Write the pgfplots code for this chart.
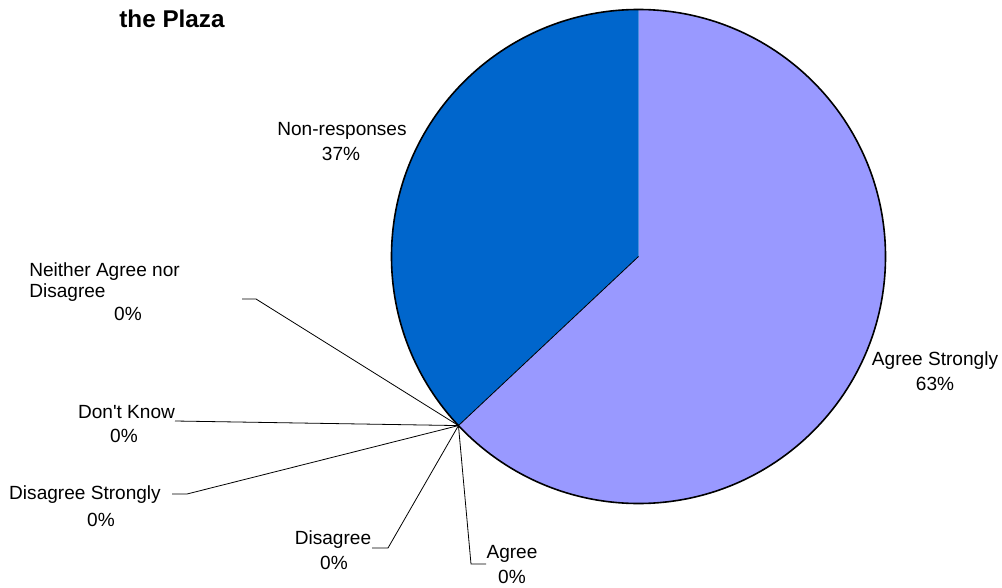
\documentclass[border=0pt]{standalone}
\usepackage{pgfplots}
\usepackage{pgfplotstable}
\pgfplotsset{compat=1.18}
\usepackage{fontspec}
\setmainfont{Liberation Sans}
\definecolor{agreestrong}{HTML}{9999FF}
\definecolor{nonresp}{HTML}{0066CC}

\pgfplotstableread[col sep=comma]{
category,value
Agree Strongly,63
Agree,0
Disagree,0
Disagree Strongly,0
Don't Know,0
Neither Agree nor Disagree,0
Non-responses,37
}\piedata

\pgfplotstablegetelem{0}{value}\of\piedata
\pgfmathsetmacro{\vAS}{\pgfplotsretval}
\pgfplotstablegetelem{6}{value}\of\piedata
\pgfmathsetmacro{\vNR}{\pgfplotsretval}
\pgfmathsetmacro{\aA}{90-3.6*\vAS}
\pgfmathsetmacro{\aB}{\aA-3.6*\vNR}
\def\R{185.25pt}
\newcommand\lf{\fontsize{14.3}{16}\selectfont}

\begin{document}
\begin{tikzpicture}
\begin{axis}[scale only axis, width=751.5pt, height=441pt,
  xmin=0, xmax=1002, ymin=0, ymax=588, y dir=reverse,
  hide axis, clip=false]
% slices
\fill[agreestrong] (axis cs:638.5,256.5) -- ++(90:\R) arc[start angle=90,end angle=\aA,radius=\R] -- cycle;
\fill[nonresp] (axis cs:638.5,256.5) -- ++(\aA:\R) arc[start angle=\aA,end angle=\aB,radius=\R] -- cycle;
\draw[line width=1.2pt] (axis cs:638.5,256.5) circle[radius=\R];
\draw[line width=0.6pt] (axis cs:638.5,256.5) -- ++(\aA:\R);
\path (axis cs:638.5,256.5) ++(\aA:\R) coordinate (C);
% leader lines
\draw[line width=0.6pt] (axis cs:242,299) -- (axis cs:256,299) -- (C);
\draw[line width=0.6pt] (axis cs:175,421) -- (C);
\draw[line width=0.6pt] (axis cs:172,494) -- (axis cs:187,494) -- (C);
\draw[line width=0.6pt] (axis cs:372,548) -- (axis cs:388,548) -- (C);
\draw[line width=0.6pt] (axis cs:486,564) -- (axis cs:471,564) -- (C);
% title
\node[inner sep=0pt, font=\fontsize{18.2}{21}\selectfont\bfseries] at (axis cs:172,19) {the Plaza};
% labels
\tikzset{lb/.style={inner sep=0pt, font=\lf}}
\node[lb] at (axis cs:342,131) {Non-responses};
\node[lb] at (axis cs:341,154) {37\%};
\node[lb] at (axis cs:935,361) {Agree Strongly};
\node[lb] at (axis cs:935,384) {63\%};
\node[lb, anchor=west] at (axis cs:29,272) {Neither Agree nor};
\node[lb, anchor=west] at (axis cs:29,293) {Disagree};
\node[lb] at (axis cs:128,314) {0\%};
\node[lb] at (axis cs:126.5,412) {Don\textquotesingle t Know};
\node[lb] at (axis cs:124,436) {0\%};
\node[lb] at (axis cs:85,495) {Disagree Strongly};
\node[lb] at (axis cs:101,520) {0\%};
\node[lb] at (axis cs:333,540) {Disagree};
\node[lb] at (axis cs:334,563) {0\%};
\node[lb] at (axis cs:512,554) {Agree};
\node[lb] at (axis cs:512,577) {0\%};
\end{axis}
\pgfresetboundingbox
\useasboundingbox (current axis.south west) rectangle (current axis.north east);
\end{tikzpicture}
\end{document}
